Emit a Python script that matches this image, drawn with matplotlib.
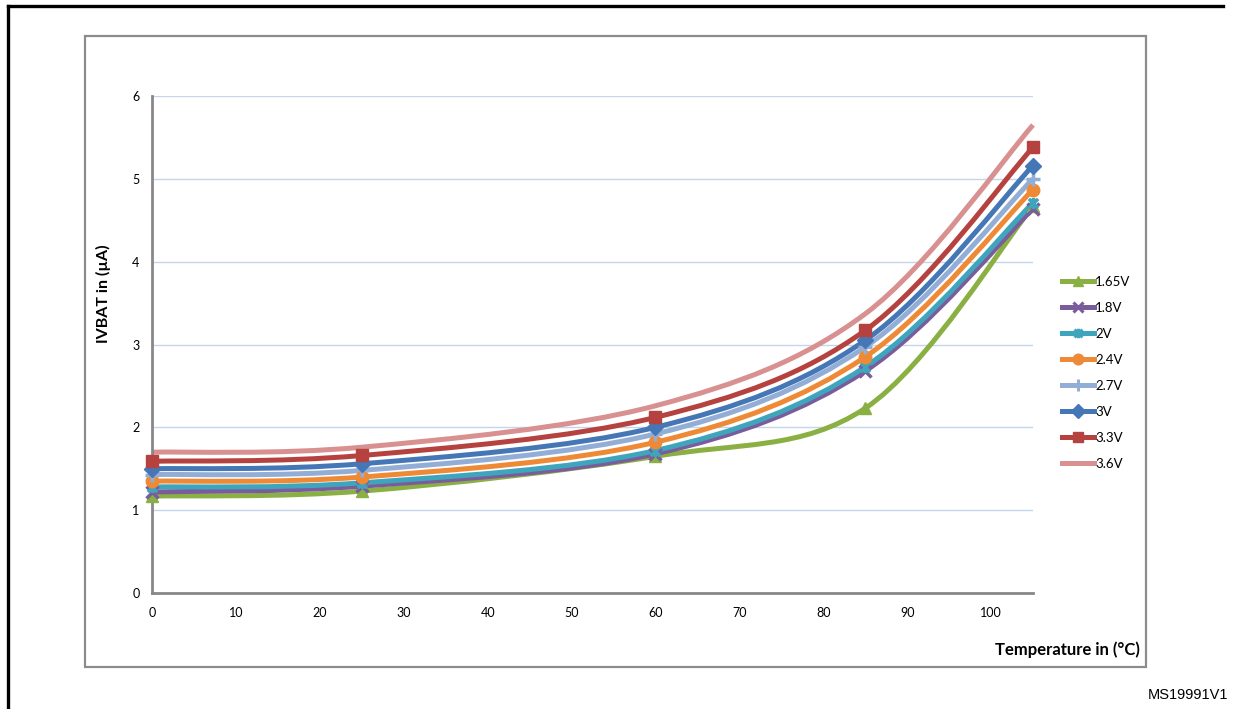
import matplotlib
matplotlib.use("Agg")
import matplotlib.pyplot as plt
from matplotlib.path import Path
from matplotlib.patches import PathPatch, Rectangle
from matplotlib.lines import Line2D

# data
temps = [0, 25, 60, 85, 105]
labels = ["1.65V", "1.8V", "2V", "2.4V", "2.7V", "3V", "3.3V", "3.6V"]
v165 = [1.17, 1.23, 1.65, 2.23, 4.67]
v18 = [1.22, 1.29, 1.68, 2.68, 4.64]
v2 = [1.28, 1.33, 1.72, 2.73, 4.71]
v24 = [1.35, 1.40, 1.82, 2.85, 4.87]
v27 = [1.43, 1.48, 1.92, 2.97, 5.00]
v3 = [1.50, 1.56, 2.00, 3.05, 5.16]
v33 = [1.59, 1.66, 2.12, 3.17, 5.38]
v36 = [1.70, 1.76, 2.26, 3.37, 5.65]
series = [v165, v18, v2, v24, v27, v3, v33, v36]

colors = ["#8AB043", "#7A5C9C", "#3FA5BD", "#EE8A36",
          "#93AED6", "#4577B6", "#B5423F", "#D99090"]

# excel-like asterisk marker (x with a vertical bar)
star = Path([(-1, -1), (1, 1), (-1, 1), (1, -1), (0, -1.2), (0, 1.2)],
            [Path.MOVETO, Path.LINETO, Path.MOVETO, Path.LINETO, Path.MOVETO, Path.LINETO])
markers = ["^", "x", star, "o", "+", "D", "s", None]
msizes = [9, 8, 8, 9, 10, 8, 9, 0]


def smooth_path(xs, ys):
    # bezier through the points, like excel "smoothed line"
    pts = list(zip(xs, ys))
    n = len(pts)
    verts = [pts[0]]
    codes = [Path.MOVETO]
    for i in range(n - 1):
        p0 = pts[i - 1] if i > 0 else pts[i]
        p1 = pts[i]
        p2 = pts[i + 1]
        p3 = pts[i + 2] if i + 2 < n else pts[i + 1]
        c1 = (p1[0] + (p2[0] - p0[0]) / 6, p1[1] + (p2[1] - p0[1]) / 6)
        c2 = (p2[0] - (p3[0] - p1[0]) / 6, p2[1] - (p3[1] - p1[1]) / 6)
        verts += [c1, c2, p2]
        codes += [Path.CURVE4] * 3
    return Path(verts, codes)


W, H = 1233, 709
fig = plt.figure(figsize=(12.33, 7.09), dpi=100)

# outer black frame (top and left)
fig.add_artist(Line2D([8 / W, 1223 / W], [1 - 6 / H, 1 - 6 / H], color="black", lw=2.4))
fig.add_artist(Line2D([8 / W, 8 / W], [1 - 6 / H, 0], color="black", lw=2.4))
# chart box
fig.add_artist(Rectangle((85 / W, 1 - 667 / H), (1146 - 85) / W, (667 - 36) / H,
                         fill=False, edgecolor="#8C8C8C", lw=1.6))

ax = fig.add_axes([152 / W, 1 - 593 / H, (1033 - 152) / W, (593 - 96) / H])
ax.set_xlim(0, 105)
ax.set_ylim(0, 6)
ax.set_xticks(range(0, 101, 10))
ax.set_yticks(range(0, 7))
ax.yaxis.grid(True, color="#C5D5EA", lw=1)
ax.set_axisbelow(True)
for s in ["top", "right"]:
    ax.spines[s].set_visible(False)
for s in ["left", "bottom"]:
    ax.spines[s].set_color("#878787")
    ax.spines[s].set_linewidth(2)
ax.tick_params(length=0, labelsize=9)
ax.tick_params(axis="x", pad=10)
ax.tick_params(axis="y", pad=9)
for t in ax.get_xticklabels() + ax.get_yticklabels():
    t.set_fontfamily("Lato")

handles = []
for vals, c, m, ms, lab in zip(series, colors, markers, msizes, labels):
    ax.add_patch(PathPatch(smooth_path(temps, vals), fill=False, edgecolor=c,
                           lw=3.6, capstyle="butt", zorder=2, clip_on=False))
    if m is not None:
        ax.plot(temps, vals, linestyle="none", marker=m, markersize=ms, color=c,
                markeredgewidth=2.5 if m in ("x", "+") or m is star else 1,
                zorder=3, clip_on=False)
    handles.append(Line2D([], [], color=c, lw=3.6, marker=m, markersize=ms * 0.85,
                          markeredgewidth=2.2 if m in ("x", "+") or m is star else 1))

fig.legend(handles, labels, loc="upper left", bbox_to_anchor=(1062 / W, 1 - 276 / H),
           frameon=False, handlelength=2.4, handletextpad=0.1,
           labelspacing=1.06, borderpad=0, borderaxespad=0,
           prop={"family": "Lato", "size": 9.5})

fig.text(103 / W, 1 - 294 / H, "IVBAT in (µA)", rotation=90, ha="center", va="center",
         fontsize=11.5, fontweight="bold", family="Lato")
fig.text(1140 / W, 1 - 650 / H, "Temperature in (°C)", ha="right", va="center",
         fontsize=12, fontweight="bold", family="Lato")
fig.text(1228 / W, 1 - 695 / H, "MS19991V1", ha="right", va="center",
         fontsize=10.5, family="Liberation Sans")

fig.savefig("out.png", dpi=100)
